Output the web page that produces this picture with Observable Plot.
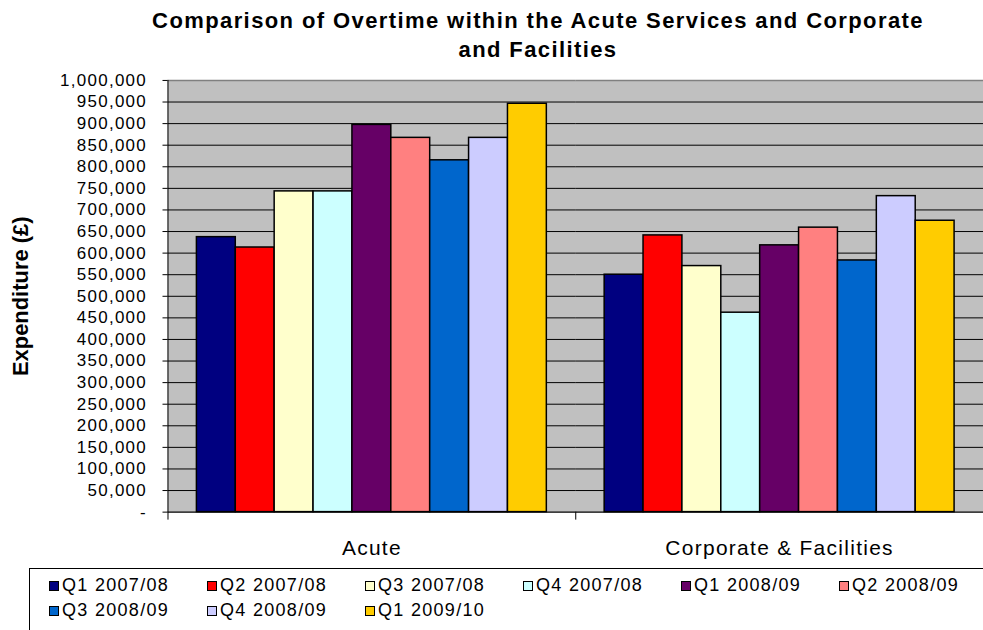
<!DOCTYPE html>
<html>
<head>
<meta charset="utf-8">
<script src="https://cdn.jsdelivr.net/npm/d3@7"></script>
<script src="https://cdn.jsdelivr.net/npm/@observablehq/plot@0.6"></script>
<style>
  html, body { margin: 0; padding: 0; background: #fff; }
  body { width: 983px; height: 630px; overflow: hidden; position: relative;
         font-family: "Liberation Sans", Arial, sans-serif; color: #000; }
  #title { box-sizing: border-box; height: 62px; padding: 6px 0 0 93px; text-align: center;
           font-weight: bold; font-size: 22px; line-height: 29px; letter-spacing: 1.4px; white-space: nowrap; }
  #chart svg { display: block; }
  .overtime g[aria-label="y-axis tick label"] text { letter-spacing: 1.3px; }
  .overtime g[aria-label="fx-axis tick label"] text { letter-spacing: 1.3px; }
  #legend { position: absolute; left: 29px; top: 568px; width: 1000px; height: 80px;
            border: 1px solid #000; box-sizing: border-box; padding: 4px 0 0 19px; }
  .item { display: inline-flex; align-items: center; width: 158px; height: 25px;
          font-size: 18px; letter-spacing: 1.3px; white-space: nowrap; }
  .sw { width: 8px; height: 8px; border: 1px solid #000; margin-right: 3px; flex: none; }
</style>
</head>
<body>
<div id="title">Comparison of Overtime within the Acute Services and Corporate<br>and Facilities</div>
<div id="chart"></div>
<div id="legend"></div>
<script>
// Overtime expenditure (£) by directorate and quarter
const categories = ["Acute", "Corporate & Facilities"];
const quarters = ["Q1 2007/08", "Q2 2007/08", "Q3 2007/08", "Q4 2007/08", "Q1 2008/09",
                  "Q2 2008/09", "Q3 2008/09", "Q4 2008/09", "Q1 2009/10"];
const acute =     [637000, 613000, 743000, 743000, 897000, 867000, 815000, 867000, 946000];
const corporate = [550000, 641000, 570000, 462000, 618000, 659000, 583000, 732000, 675000];
const colours = ["#000080", "#ff0000", "#ffffcc", "#ccffff", "#660066",
                 "#ff8080", "#0066cc", "#ccccff", "#ffcc00"];
const yTicks = d3.range(0, 1000001, 50000);
const yLabel = "Expenditure (£)";

const rows = [];
[acute, corporate].forEach((series, c) =>
  series.forEach((v, q) => rows.push({category: categories[c], quarter: quarters[q], value: v})));

// the plot area runs a little past the right edge of the page
const W = 986, H = 503;
const mL = 167, mR = 0, mT = 18, mB = 52;
const facetW = (W - mL - mR) / categories.length;
const below = -18500; // how far the category separators drop below zero
const fmt = d3.format(",");

const chart = Plot.plot({
  className: "overtime",
  width: W, height: H,
  marginLeft: mL, marginRight: mR, marginTop: mT, marginBottom: mB,
  style: {fontFamily: "'Liberation Sans', Arial, sans-serif", color: "#000", background: "#fff", overflow: "visible"},
  fx: {domain: categories, padding: 0},
  x: {domain: quarters, paddingInner: 0, paddingOuter: 0.72, axis: null},
  y: {domain: [0, 1000000]},
  color: {domain: quarters, range: colours},
  marks: [
    Plot.frame({fill: "#c0c0c0", stroke: null, insetLeft: -0.5, insetRight: -0.5}),
    Plot.ruleY(yTicks.filter(t => t > 0 && t < 1000000), {stroke: "#000", strokeWidth: 1}),
    Plot.ruleY([1000000], {stroke: "#808080", strokeWidth: 1.5}),
    Plot.barY(rows, {fx: "category", x: "quarter", y: "value", fill: "quarter",
                     stroke: "#000", strokeWidth: 1.5}),
    Plot.ruleY([0], {stroke: "#000", strokeWidth: 1.5}),
    // value axis line, and the category separators under the baseline
    Plot.rect([categories[0]], {fx: d => d, y1: below, y2: 1000000, insetRight: facetW - 1.5, fill: "#000"}),
    Plot.rect([categories[1]], {fx: d => d, y1: below, y2: 0, insetRight: facetW - 1.5, fill: "#000"}),
    Plot.axisY({ticks: yTicks, tickFormat: d => d === 0 ? "-" : fmt(d), tickSize: 5, tickPadding: 16,
                fontSize: 17, label: null, stroke: "#000"}),
    Plot.text([yLabel], {fx: () => categories[0], frameAnchor: "left", textAnchor: "middle", dx: -147,
                         rotate: -90, fontSize: 22, fontWeight: "bold", text: d => d}),
    Plot.axisFx({anchor: "bottom", tickSize: 0, tickPadding: 28, fontSize: 21, label: null})
  ]
});
document.getElementById("chart").appendChild(chart);

const legend = document.getElementById("legend");
quarters.forEach((q, i) => {
  const item = document.createElement("span");
  item.className = "item";
  const sw = document.createElement("span");
  sw.className = "sw";
  sw.style.background = colours[i];
  item.appendChild(sw);
  item.appendChild(document.createTextNode(q));
  legend.appendChild(item);
});
</script>
</body>
</html>
